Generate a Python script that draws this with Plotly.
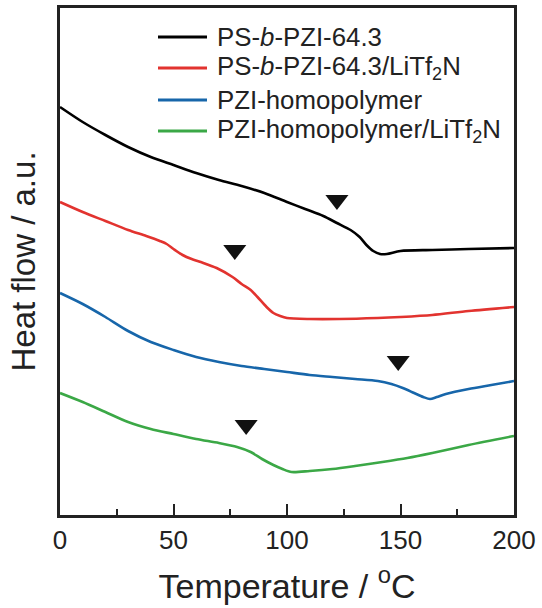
import plotly.graph_objects as go

# Temperature (°C) and heat-flow values (a.u., arbitrary offsets)
black_T = [0, 10, 20, 30, 40, 50, 60, 70, 80, 90, 100, 108, 116, 122, 128, 132, 135, 138, 141, 144, 150, 164, 180, 200]
black_H = [408, 393, 380, 368, 358, 350, 342, 335, 329, 322, 313, 306, 299, 292, 285, 278, 270, 264, 261, 261, 264, 265, 266, 267]

red_T = [0, 10, 20, 30, 38, 44, 47, 50, 54, 58, 62, 69, 76, 80, 84, 87, 91, 94, 97, 100, 110, 123, 140, 150, 164, 180, 200]
red_H = [313, 303, 294, 285, 279, 274, 271, 266, 260, 256, 253, 247, 238, 231, 225, 218, 208, 202, 199, 197, 196, 196, 197, 198, 200, 204, 208]

blue_T = [0, 10, 20, 30, 40, 50, 60, 70, 80, 90, 100, 110, 120, 130, 140, 146, 151, 156, 160, 163, 166, 170, 180, 190, 200]
blue_H = [222, 211, 198, 184, 173, 165, 158, 153, 149, 146, 143, 140, 138, 136, 134, 131, 127, 122, 118, 116, 118, 121, 126, 130, 134]

green_T = [0, 10, 20, 30, 40, 50, 60, 70, 78, 84, 89, 94, 98, 102, 110, 120, 130, 142, 153, 164, 180, 200]
green_H = [122, 113, 103, 93, 86, 81, 76, 72, 68, 63, 56, 50, 46, 43, 44, 46, 49, 53, 57, 62, 70, 79]

# Glass-transition markers (T, heat flow)
tg_T = [122, 77, 149, 82]
tg_H = [315, 265, 154, 90]

names = [
    "PS-<i>b</i>-PZI-64.3",
    "PS-<i>b</i>-PZI-64.3/LiTf<sub>2</sub>N",
    "PZI-homopolymer",
    "PZI-homopolymer/LiTf<sub>2</sub>N",
]
colors = ["#000000", "#E2332F", "#1766AA", "#3BA846"]
x_ticks = [0, 50, 100, 150, 200]

series = [(black_T, black_H), (red_T, red_H), (blue_T, blue_H), (green_T, green_H)]

fig = go.Figure()
for (t, h), n, c in zip(series, names, colors):
    fig.add_trace(go.Scatter(x=t, y=h, mode="lines", name=n, showlegend=False,
                             line=dict(color=c, width=2.6, shape="spline", smoothing=0.8)))

fig.add_trace(go.Scatter(x=tg_T, y=tg_H, mode="markers", showlegend=False,
                         marker=dict(symbol="triangle-down", size=20, color="#111111",
                                     line=dict(width=0))))

font_family = "Liberation Sans, Arial, sans-serif"

# legend drawn as line samples + labels (paper coordinates)
plot_top, plot_h = 8, 507
legend_rows_px = [37, 68, 100, 131]
for n, c, ypx in zip(names, colors, legend_rows_px):
    yp = 1 - (ypx - plot_top) / plot_h
    fig.add_shape(type="line", xref="paper", yref="paper",
                  x0=(158 - 60) / 454, x1=(207 - 60) / 454, y0=yp, y1=yp,
                  line=dict(color=c, width=3))
    fig.add_annotation(xref="paper", yref="paper", x=(215 - 60) / 454, y=yp,
                       xanchor="left", yanchor="middle", text=n, showarrow=False,
                       font=dict(size=25.8, family=font_family, color="#222222"))

fig.update_layout(
    width=542, height=608,
    margin=dict(l=60, r=28, t=8, b=93),
    plot_bgcolor="white", paper_bgcolor="white",
    font=dict(family=font_family, color="#222222"),
    showlegend=False,
    xaxis=dict(range=[0, 200], tickvals=x_ticks, ticks="inside", ticklen=11, tickwidth=2,
               tickcolor="#222222",
               minor=dict(ticks="inside", ticklen=6, tickwidth=2, dtick=25, tickcolor="#222222"),
               showline=True, linecolor="#222222", linewidth=3, mirror=True,
               showgrid=False, zeroline=False, automargin=False,
               tickfont=dict(size=26), ticklabelstandoff=0,
               title=dict(text="Temperature / <sup>o</sup>C", font=dict(size=34), standoff=20)),
    yaxis=dict(range=[0, 507], showticklabels=False, ticks="",
               showline=True, linecolor="#222222", linewidth=3, mirror=True,
               showgrid=False, zeroline=False, automargin=False,
               title=dict(text="Heat flow / a.u.", font=dict(size=33), standoff=12)),
)

fig.write_html("out.html", config={"displayModeBar": False},
               post_script="document.body.style.margin='0px';")
